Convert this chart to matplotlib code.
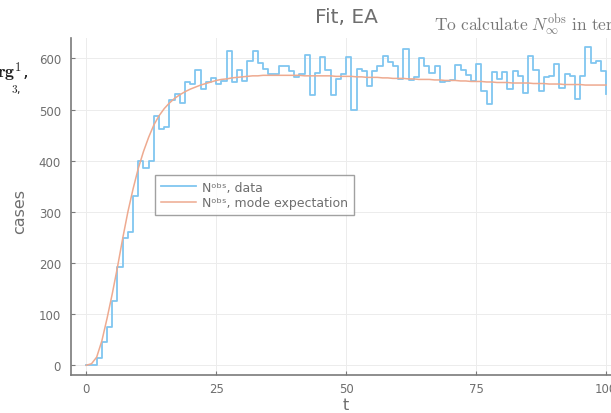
import matplotlib
matplotlib.use("Agg")
import matplotlib.pyplot as plt
import numpy as np

# Veriler: gözlenen vaka sayıları (her gün için bir değer) ve model eğrisi
t = np.arange(0, 101)
cases_data = [0, 0, 14, 45, 75, 126, 193, 248, 260, 331,
              400, 386, 400, 488, 463, 465, 519, 531, 512, 553,
              551, 577, 540, 554, 561, 551, 556, 615, 554, 577,
              556, 595, 614, 592, 580, 569, 569, 586, 586, 576,
              564, 569, 607, 528, 572, 602, 577, 528, 559, 570,
              602, 500, 580, 575, 547, 576, 586, 604, 593, 585,
              559, 618, 557, 563, 600, 586, 572, 586, 553, 556,
              558, 588, 578, 568, 556, 590, 537, 510, 573, 559,
              573, 540, 575, 566, 532, 604, 577, 537, 563, 566,
              589, 543, 569, 566, 520, 566, 622, 592, 595, 576,
              530]
cases_fit = [0, 3, 16, 48, 92, 140, 192, 248, 300, 345,
             385, 418, 446, 470, 488, 502, 513, 522, 529, 535,
             540, 544, 548, 551, 554, 557, 559, 560, 562, 563,
             564, 565, 566, 566, 567, 567, 567, 567, 567, 567,
             567, 567, 566, 566, 566, 566, 566, 566, 565, 565,
             565, 565, 564, 564, 563, 563, 563, 562, 562, 561,
             561, 561, 560, 560, 559, 559, 559, 558, 558, 557,
             557, 557, 556, 556, 555, 555, 555, 554, 554, 553,
             553, 553, 552, 552, 552, 552, 551, 551, 551, 550,
             550, 550, 549, 549, 549, 549, 548, 548, 548, 548,
             548]
x_ticks = [0, 25, 50, 75, 100]
y_ticks = [0, 100, 200, 300, 400, 500, 600]

plt.rcParams['mathtext.fontset'] = 'cm'
gri = '#6e6e6e'

fig = plt.figure(figsize=(6.11, 4.14), dpi=100)
# Eksen alanı sağ tarafta resmin dışına taşıyor (ekran görüntüsü kırpılmış)
ax = fig.add_axes([70.7 / 611, 1 - 376 / 414, 551 / 611, 337 / 414])

ax.step(t, cases_data, where='post', color='#80c6f0', lw=1.3,
        label='Nᵒᵇˢ, data')
ax.plot(t, cases_fit, color='#eeaa90', lw=1.1,
        label='Nᵒᵇˢ, mode expectation')

ax.set_xlim(-3, 103)
ax.set_ylim(-19, 640)
ax.set_xticks(x_ticks)
ax.set_yticks(y_ticks)
ax.grid(True, color='#ececec', lw=0.7)

for s in ['top', 'right']:
    ax.spines[s].set_visible(False)
for s in ['left', 'bottom']:
    ax.spines[s].set_color('#7a7a7a')
    ax.spines[s].set_linewidth(1.2)
ax.tick_params(axis='both', direction='in', length=3, color='#7a7a7a',
               labelcolor=gri, labelsize=8.5)
ax.tick_params(axis='y', pad=7)
ax.tick_params(axis='x', pad=5)

# Başlık ve eksen yazıları
fig.text(346 / 611, 1 - 17.5 / 414, 'Fit, EA', ha='center', va='center',
         fontsize=14.5, color=gri)
fig.text(20 / 611, 1 - 212 / 414, 'cases', rotation=90, ha='center',
         va='center', fontsize=11.5, color=gri)
fig.text(345.5 / 611, 1 - 406 / 414, 't', ha='center', va='center',
         fontsize=11.5, color=gri)

leg = ax.legend(loc='upper left', bbox_to_anchor=(155 / 611, 1 - 176 / 414),
                bbox_transform=fig.transFigure, borderaxespad=0,
                fancybox=False, fontsize=9, handlelength=2.85,
                handletextpad=0.5, labelspacing=0.2, borderpad=0.45)
leg.get_frame().set_edgecolor('#8a8a8a')
leg.get_frame().set_linewidth(1.0)
for txt in leg.get_texts():
    txt.set_color(gri)

# Sayfadan taşan metin parçaları (solda ve sağ üstte), LaTeX görünümlü
fig.text(28 / 611, 1 - 72 / 414, r'$\mathbf{rg}^{1}$,', ha='right',
         va='center', fontsize=13, color='#222222')
fig.text(21 / 611, 1 - 90 / 414, r'$\mathbf{3}$,', ha='right',
         va='center', fontsize=8, color='#222222')
fig.text(434 / 611, 1 - 31.5 / 414,
         r'$\mathrm{To\ calculate\ }N_{\infty}^{\mathrm{obs}}\mathrm{\ in\ terms}$',
         ha='left', va='baseline', fontsize=12.5, color='#777777')

fig.savefig('out.png', dpi=100)
